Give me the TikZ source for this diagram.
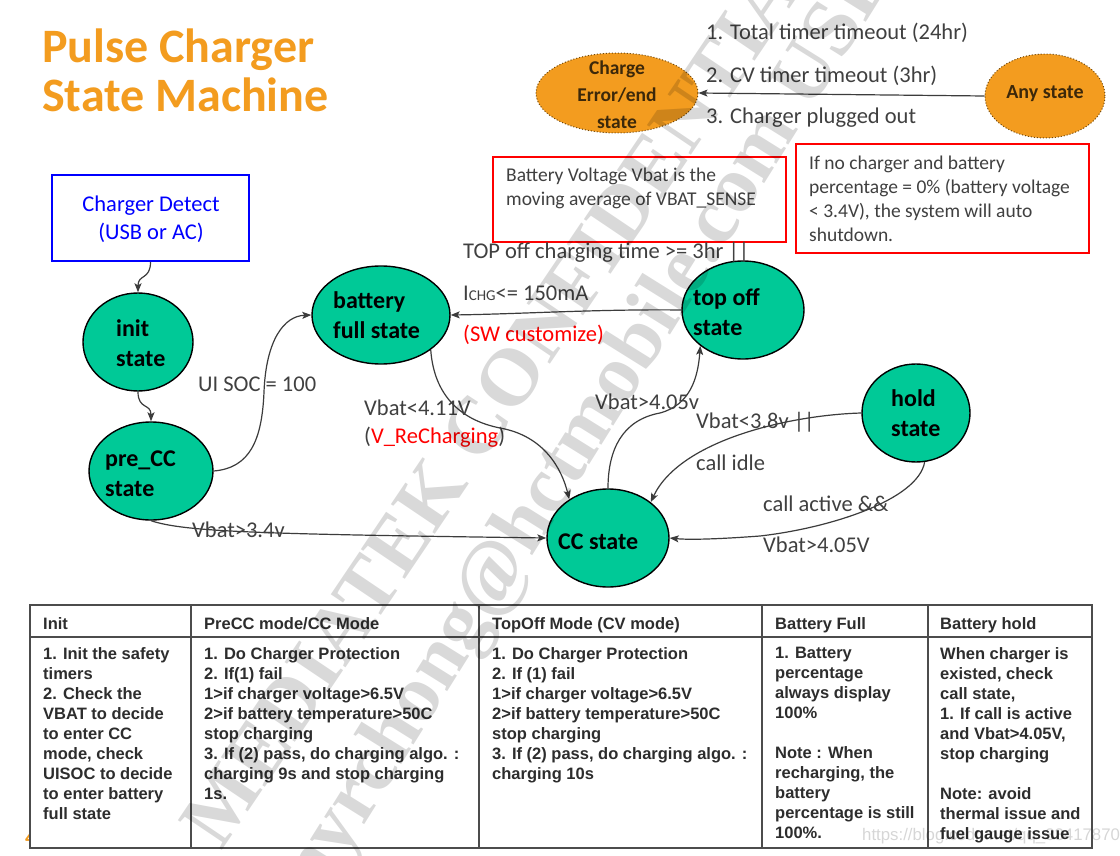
\documentclass[tikz,border=0pt]{standalone}
\usepackage{fontspec}
\setmainfont{Carlito}
\newfontfamily\tabfont{Liberation Sans}
\newfontfamily\wmfont{Liberation Serif}
\usetikzlibrary{shapes.geometric,arrows.meta}
\definecolor{stgreen}{RGB}{0,201,151}
\definecolor{orng}{RGB}{243,156,31}
\definecolor{lblc}{RGB}{64,64,64}
\definecolor{edgec}{RGB}{60,60,60}
\definecolor{redc}{RGB}{255,0,0}
\definecolor{bluec}{RGB}{0,0,255}
\definecolor{tabtxt}{RGB}{45,45,45}
\definecolor{errtxt}{RGB}{60,40,10}
\definecolor{errdot}{RGB}{110,70,10}
\newcommand\fsz[2]{\fontsize{#1}{#2}\selectfont}
\begin{document}
\begin{tikzpicture}[x=1pt,y=-1pt,
  state/.style={ellipse, draw=black, line width=1.4pt, fill=stgreen, inner sep=0pt},
  stxt/.style={font=\bfseries\fsz{24}{30}, align=left, anchor=west, inner sep=0pt, text=black},
  lbl/.style={font=\fsz{22.5}{27}, text=lblc, anchor=west, inner sep=0pt},
  edgeln/.style={draw=edgec, line width=1.2pt, -{Stealth[length=9pt,width=7pt,inset=2pt]}},
  rbox/.style={draw=redc, line width=1.5pt, inner sep=0pt},
  notetxt/.style={font=\fsz{19.5}{24}, text=lblc, align=left, anchor=west, inner sep=0pt},
  thead/.style={font=\tabfont\bfseries\fsz{16.5}{20}, text=tabtxt, anchor=west, inner sep=0pt, text height=12pt, text depth=0pt},
  tbody/.style={font=\tabfont\bfseries\fsz{16.5}{20}, text=tabtxt, anchor=north west, align=left, inner sep=0pt},
  tline/.style={draw=black!70, line width=1.5pt},
  wm/.style={font=\wmfont\bfseries\fsz{81}{81}, text=black, text opacity=0.15, inner sep=0pt}
]
\fill[white] (0,0) rectangle (1120,856);
\useasboundingbox (0,0) rectangle (1120,856);

% title
\node[anchor=base west, inner sep=0pt, text=orng, font=\bfseries\fsz{48}{48}] (title1) at (42,63) {Pulse Charger};
\node[anchor=base west, inner sep=0pt, text=orng, font=\bfseries\fsz{48}{48}] (title2) at (42,112) {State Machine};

% charger detect
\node[draw=bluec, line width=2pt, minimum width=197pt, minimum height=86pt, inner sep=0pt] (detect) at (150.5,218) {};
\node[font=\fsz{22.5}{28}, text=bluec, align=center, inner sep=0pt] (detectt) at (151,219) {Charger Detect\\(USB or AC)};

% states
\node[state, minimum width=110pt, minimum height=98pt] (init) at (138,342) {};
\node[state, minimum width=124pt, minimum height=98pt] (precc) at (151,471) {};
\node[state, minimum width=138pt, minimum height=98pt] (batt) at (381,315) {};
\node[state, minimum width=122pt, minimum height=98pt] (topoff) at (743,310) {};
\node[state, minimum width=108pt, minimum height=98pt] (hold) at (916,413) {};
\node[state, minimum width=122pt, minimum height=98pt] (cc) at (608,538) {};
\node[ellipse, fill=orng, draw=errdot, dotted, line width=1pt, minimum width=162pt, minimum height=80pt, inner sep=0pt] (err) at (617,93) {};
\node[ellipse, fill=orng, draw=errdot, dotted, line width=1pt, minimum width=120pt, minimum height=84pt, inner sep=0pt] (any) at (1045,96) {};

\node[stxt] (initt) at (116,343) {init\\state};
\node[stxt] (precct) at (105,474) {pre\_CC\\state};
\node[stxt] (battt) at (333,315) {battery\\full state};
\node[stxt] (topofft) at (693,312) {top off\\state};
\node[stxt] (holdt) at (891,413) {hold\\state};
\node[stxt] (cct) at (558,542) {CC state};
\node[font=\bfseries\fsz{19.5}{27}, text=errtxt, align=center, inner sep=0pt] (errt) at (617,95) {Charge\\Error/end\\state};
\node[font=\bfseries\fsz{20}{24}, text=errtxt, inner sep=0pt] (anyt) at (1045,94) {Any state};

% notes
\node[rbox, minimum width=293pt, minimum height=85pt] (note1) at (639.5,199.5) {};
\node[notetxt] (note1t) at (506,188) {Battery Voltage Vbat is the\\moving average of VBAT\_SENSE};
\node[rbox, minimum width=293pt, minimum height=109pt] (note2) at (942.5,198.5) {};
\node[notetxt] (note2t) at (809,199) {If no charger and battery\\percentage = 0\% (battery voltage\\< 3.4V), the system will auto\\shutdown.};

% edges
\draw[edgeln] (detect.south) .. controls (150.5,280) and (138,274) .. (init.north);
\draw[edgeln] (init.south) .. controls (138,410) and (151,403) .. (precc.north);
\draw[edgeln] (precc.east) .. controls (250,468) and (262,440) .. (264,392) .. controls (266,340) and (284,316) .. (batt.west);
\draw[edgeln] (precc.south) .. controls (185,532) and (260,534) .. (cc.west);
\draw[edgeln] (batt.-35) .. controls (434,395) and (460,420) .. (500,428) .. controls (545,436) and (562,470) .. (cc.135);
\draw[edgeln] (cc.north) .. controls (608,450) and (622,420) .. (660,413) .. controls (690,405) and (698,378) .. (topoff.220);
\draw[edgeln] (topoff.west) .. controls (600,309) and (520,314) .. (batt.east);
\draw[edgeln] (hold.west) .. controls (790,415) and (680,440) .. (cc.40);
\draw[edgeln] (hold.-80) .. controls (918,500) and (830,528) .. (760,536) .. controls (720,539) and (690,540) .. (cc.east);
\draw[edgeln] (any.west) -- (err.east);

% labels
\node[lbl] (l1) at (706,33) {1. Total timer timeout (24hr)};
\node[lbl] (l2) at (706,76) {2. CV timer timeout (3hr)};
\node[lbl] (l3) at (706,118) {3. Charger plugged out};
\node[lbl] (ltop) at (463,252) {TOP off charging time >= 3hr ||};
\node[lbl] (lichg) at (463,293) {I{\fsz{15}{15}CHG}<= 150mA};
\node[lbl, text=redc] (lsw) at (463,335) {(SW customize)};
\node[lbl] (lsoc) at (198,384) {UI SOC = 100};
\node[lbl] (lrech1) at (364,408) {Vbat<4.11V};
\node[lbl] (lrech2) at (364,437) {(\textcolor{redc}{V\_ReCharging})};
\node[lbl] (l405a) at (595,402) {Vbat>4.05v};
\node[lbl] (l38) at (696,422) {Vbat<3.8v ||};
\node[lbl] (lidle) at (696,463) {call idle};
\node[lbl] (lact) at (763,504) {call active \&\&};
\node[lbl] (l405b) at (763,545) {Vbat>4.05V};
\node[lbl] (l34) at (192,530) {Vbat>3.4v};

% page number peeking out
\node[anchor=west, text=orng, font=\bfseries\fsz{20}{20}, inner sep=0pt] (pgnum) at (25,838) {4};

% table
\fill[white] (30,605) rectangle (1092,848);
\draw[tline] (30,605) rectangle (1092,848);
\draw[tline] (30,637) -- (1092,637);
\foreach \cx in {191,479,762,928} \draw[tline] (\cx,605) -- (\cx,848);

\node[thead] (h1) at (43,623) {Init};
\node[thead] (h2) at (204,623) {PreCC mode/CC Mode};
\node[thead] (h3) at (492,623) {TopOff Mode (CV mode)};
\node[thead] (h4) at (775,623) {Battery Full};
\node[thead] (h5) at (940,623) {Battery hold};

\node[tbody] (b1) at (43,647) {1. Init the safety\\timers\\2. Check the\\VBAT to decide\\to enter CC\\mode, check\\UISOC to decide\\to enter battery\\full state};
\node[tbody] (b2) at (204,647) {1. Do Charger Protection\\2. If(1) fail\\1>if charger voltage>6.5V\\2>if battery temperature>50C\\stop charging\\3. If (2) pass, do charging algo. :\\charging 9s and stop charging\\1s.};
\node[tbody] (b3) at (492,647) {1. Do Charger Protection\\2. If (1) fail\\1>if charger voltage>6.5V\\2>if battery temperature>50C\\stop charging\\3. If (2) pass, do charging algo. :\\charging 10s};
\node[tbody] (b4) at (775,647) {1. Battery\\percentage\\always display\\100\%\\[20pt]Note : When\\recharging, the\\battery\\percentage is still\\100\%.};
\node[tbody] (b5) at (940,647) {When charger is\\existed, check\\call state,\\1. If call is active\\and Vbat>4.05V,\\stop charging\\[20pt]Note: avoid\\thermal issue and\\fuel gauge issue};

% watermarks
\node[wm, rotate=56] (wm1) at (506,383) {MEDIATEK CONFIDENTIAL};
\node[wm, rotate=58, anchor=base west] (wm2) at (318,899) {nyrchong@hctmobile.com USE};
\node[anchor=west, inner sep=0pt, font=\tabfont\fsz{16.8}{20}, text=black, text opacity=0.16] (url) at (862,836) {https://blog.csdn.net/qq\_33417870};
\end{tikzpicture}
\end{document}
